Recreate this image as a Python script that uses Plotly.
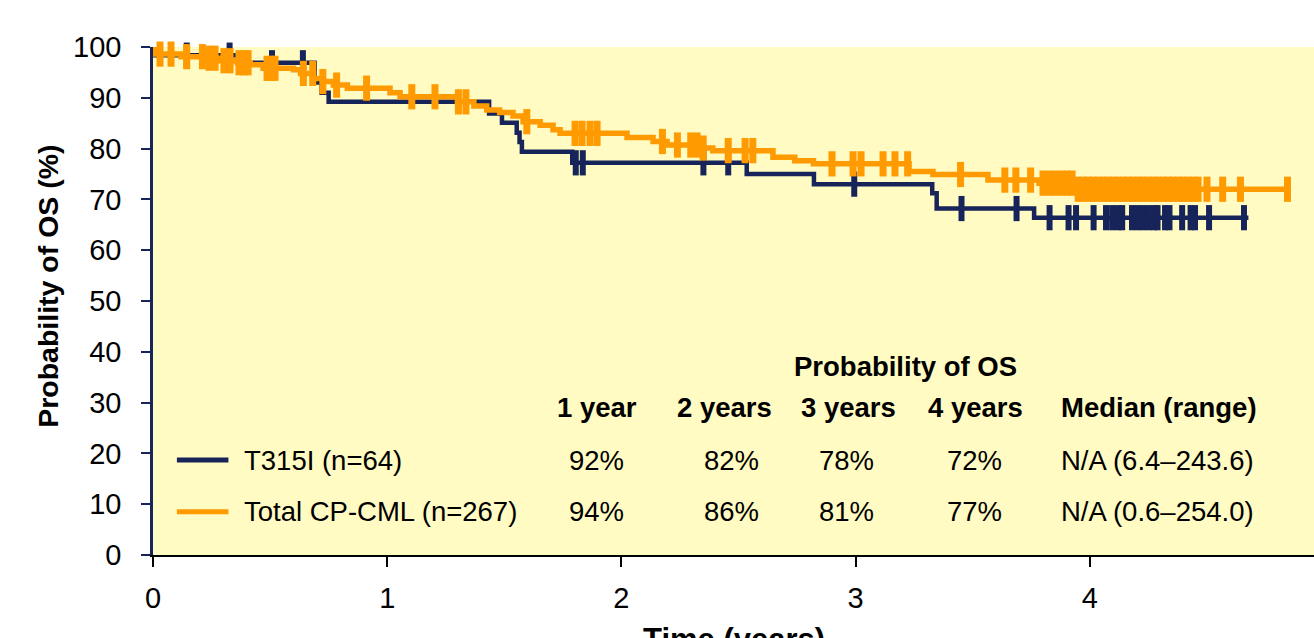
import numpy as np
import plotly.graph_objects as go

# ---- Kaplan–Meier estimates: time (years) where the estimate changes and OS (%) from then on ----
t315i_times = [0.0, 0.01, 0.38, 0.69, 0.72, 0.75, 1.435, 1.49, 1.553, 1.565, 1.575,
               1.79, 2.535, 2.822, 3.327, 3.346, 3.762]
t315i_os = [100, 98.4, 96.9, 93.0, 91.0, 89.2, 86.9, 85.1, 83.1, 81.3, 79.4,
            77.2, 75.0, 73.0, 71.2, 68.2, 66.4]
t315i_end = 4.677
t315i_censored = [0.144, 0.327, 0.508, 0.640, 1.805, 1.835, 2.350, 2.456, 2.994, 3.452,
                  3.687, 3.828, 3.909, 3.941, 4.016, 4.069, 4.095, 4.120, 4.138, 4.180,
                  4.204, 4.227, 4.251, 4.274, 4.289, 4.321, 4.340, 4.394, 4.430, 4.449,
                  4.509, 4.658]

cml_times = [0.0, 0.01, 0.12, 0.23, 0.285, 0.36, 0.415, 0.47, 0.60, 0.63, 0.685, 0.725,
             0.77, 0.83, 1.012, 1.055, 1.30, 1.37, 1.425, 1.48, 1.537, 1.58, 1.653, 1.708,
             1.738, 2.024, 2.135, 2.195, 2.335, 2.39, 2.647, 2.74, 2.82, 3.228, 3.33,
             3.565, 3.783, 3.94]
cml_os = [100, 98.6, 98.1, 97.8, 97.3, 96.9, 96.5, 95.8, 95.5, 94.8, 93.8, 93.2,
          92.5, 91.9, 91.0, 90.2, 89.2, 88.4, 87.6, 87.1, 86.4, 85.3, 84.6, 83.7,
          83.0, 82.2, 81.4, 80.7, 80.1, 79.6, 78.3, 77.6, 77.0, 75.5, 74.9,
          73.8, 73.2, 72.0]
cml_end = 4.844
cml_censored = [0.030, 0.077, 0.144, 0.211, 0.239, 0.265, 0.303, 0.329, 0.367, 0.389,
                0.406, 0.487, 0.504, 0.521, 0.642, 0.682, 0.725, 0.784, 0.912, 1.105,
                1.204, 1.304, 1.336, 1.596, 1.802, 1.832, 1.866, 1.896, 2.175, 2.239,
                2.296, 2.323, 2.349, 2.456, 2.528, 2.561, 2.899, 2.989, 3.023, 3.117,
                3.168, 3.222, 3.448, 3.637, 3.684, 3.747, 3.800, 3.826, 3.851, 3.877,
                3.903, 3.924, 3.950, 3.971, 3.993, 4.014, 4.035, 4.057, 4.078, 4.099,
                4.121, 4.142, 4.163, 4.185, 4.206, 4.227, 4.249, 4.270, 4.291, 4.313,
                4.334, 4.355, 4.377, 4.398, 4.419, 4.441, 4.462, 4.500, 4.567, 4.643,
                4.844]

# ---- summary table ----
group_labels = ["T315I (n=64)", "Total CP-CML (n=267)"]
landmark_labels = ["1 year", "2 years", "3 years", "4 years"]
landmark_os = [["92%", "82%", "78%", "72%"],
               ["94%", "86%", "81%", "77%"]]
median_header = "Median (range)"
median_values = ["N/A (6.4–243.6)", "N/A (0.6–254.0)"]
table_title = "Probability of OS"

x_ticks = [0, 1, 2, 3, 4]
y_ticks = [0, 10, 20, 30, 40, 50, 60, 70, 80, 90, 100]

NAVY = "#16245a"
ORANGE = "#ff9a00"
BG = "#fffbc2"
FONT = "Liberation Sans, Arial, sans-serif"
FS = 27.5


def step_value(times, values, t):
    idx = np.searchsorted(np.asarray(times), np.asarray(t), side="right") - 1
    return np.asarray(values)[idx]


fig = go.Figure()

series = [
    (t315i_times, t315i_os, t315i_end, t315i_censored, NAVY, 4.5, 6),
    (cml_times, cml_os, cml_end, cml_censored, ORANGE, 5.5, 7),
]
for times, vals, end, cens, color, lw, mw in series:
    fig.add_trace(go.Scatter(
        x=list(times) + [end], y=list(vals) + [vals[-1]],
        mode="lines", line=dict(color=color, width=lw, shape="hv"),
        hoverinfo="skip", showlegend=False))
    fig.add_trace(go.Scatter(
        x=cens, y=step_value(times, vals, cens),
        mode="markers", cliponaxis=False,
        marker=dict(symbol="line-ns", size=18,
                    line=dict(color=color, width=mw)),
        hoverinfo="skip", showlegend=False))

# table text (column centres in axis units)
col_x = [1.896, 2.438, 2.969, 3.510]
value_x = [1.892, 2.468, 2.963, 3.508]
median_x = 3.870
row_y = [18.7, 8.5]
header_y = 29.0
annotations = [dict(x=3.213, y=37.1, text=f"<b>{table_title}</b>", showarrow=False,
                    xanchor="center", yanchor="middle")]
for cx, lab in zip(col_x, landmark_labels):
    annotations.append(dict(x=cx, y=header_y, text=f"<b>{lab}</b>", showarrow=False,
                            xanchor="center", yanchor="middle"))
annotations.append(dict(x=median_x, y=header_y, text=f"<b>{median_header}</b>",
                        showarrow=False, xanchor="left", yanchor="middle"))
for ry, lab, vals, med in zip(row_y, group_labels, landmark_os, median_values):
    annotations.append(dict(x=0.380, y=ry, text=lab, showarrow=False,
                            xanchor="left", yanchor="middle"))
    for cx, v in zip(value_x, vals):
        annotations.append(dict(x=cx, y=ry, text=v, showarrow=False,
                                xanchor="center", yanchor="middle"))
    annotations.append(dict(x=median_x, y=ry, text=med, showarrow=False,
                            xanchor="left", yanchor="middle"))

# axis titles
annotations.append(dict(xref="paper", yref="paper", x=-0.0904, y=0.528,
                        text="<b>Probability of OS (%)</b>", textangle=-90,
                        showarrow=False, xanchor="center", yanchor="middle",
                        font=dict(size=28.5)))
annotations.append(dict(xref="paper", yref="paper", x=0.5, y=0, yshift=-65,
                        text="<b>Time (years)</b>", showarrow=False,
                        xanchor="center", yanchor="top", font=dict(size=31)))

shapes = []
for ry, color in zip(row_y, [NAVY, ORANGE]):
    shapes.append(dict(type="line", xref="x", yref="y", x0=0.102, x1=0.322, y0=ry, y1=ry,
                       line=dict(color=color, width=5)))

fig.update_layout(
    width=1314, height=638,
    margin=dict(l=153, r=0, t=47, b=83),
    paper_bgcolor="white", plot_bgcolor=BG,
    font=dict(family=FONT, size=FS, color="black"),
    annotations=annotations, shapes=shapes,
    xaxis=dict(range=[0, 4.957], tickvals=x_ticks, ticks="outside", ticklen=10,
               tickwidth=1.5, tickcolor="black", showline=True, linecolor="black",
               linewidth=2, showgrid=False, zeroline=False, fixedrange=True,
               tickfont=dict(size=29), ticklabelstandoff=6),
    yaxis=dict(range=[0, 100], tickvals=y_ticks, ticks="outside", ticklen=9,
               tickwidth=2, tickcolor=NAVY, showline=True, linecolor=NAVY,
               linewidth=2.5, showgrid=False, zeroline=False, fixedrange=True,
               tickfont=dict(size=29), ticklabelstandoff=14),
)

fig.write_html("out.html")
